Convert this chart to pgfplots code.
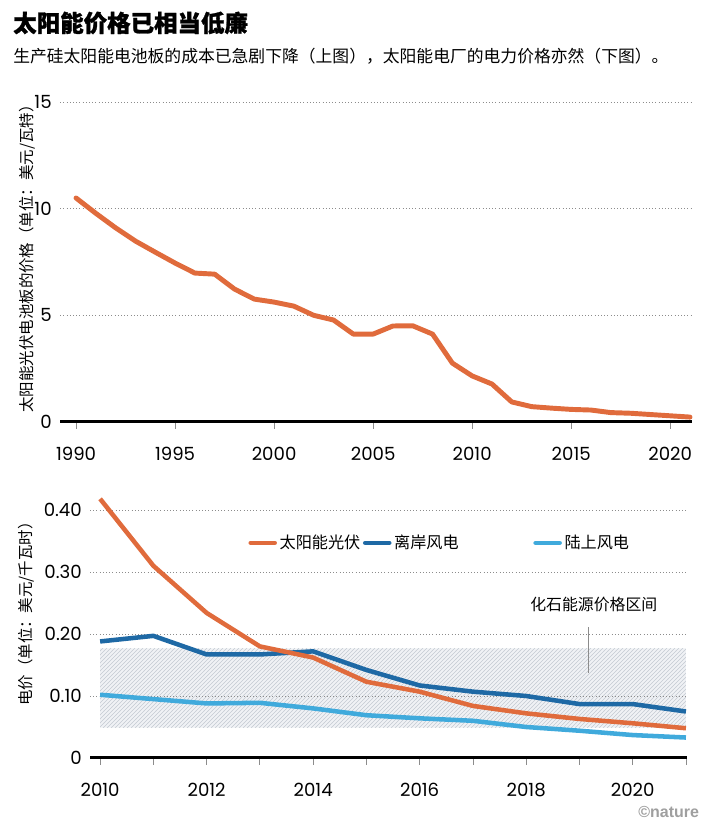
\documentclass[border=0pt]{standalone}
\usepackage{fontspec}
\setmainfont{Poppins}
\newfontfamily\cjk{Noto Sans CJK SC}
\newfontfamily\cjkb[BoldFeatures={FakeBold=1.2}]{Noto Sans CJK SC}
\newfontfamily\natfont{Liberation Sans}
\usepackage{pgfplots}
\pgfplotsset{compat=1.18}
\usetikzlibrary{patterns}
\definecolor{solar}{RGB}{224,107,60}
\definecolor{offshore}{RGB}{30,105,165}
\definecolor{onshore}{RGB}{64,170,220}
\definecolor{bandbg}{RGB}{240,242,245}
\definecolor{hatch}{RGB}{196,202,210}
\definecolor{gridc}{RGB}{140,140,140}

\pgfplotstableread{
year price
1990 10.5
1991 9.78
1992 9.1
1993 8.48
1994 7.96
1995 7.45
1996 6.98
1997 6.93
1998 6.23
1999 5.76
2000 5.62
2001 5.43
2002 5.0
2003 4.78
2004 4.12
2005 4.12
2006 4.5
2007 4.51
2008 4.12
2009 2.76
2010 2.16
2011 1.78
2012 0.94
2013 0.72
2014 0.65
2015 0.59
2016 0.56
2017 0.44
2018 0.41
2019 0.35
2020 0.29
2021 0.23
}\panel

\pgfplotstableread{
year solar offshore onshore
2010 0.418 0.188 0.102
2011 0.310 0.197 0.095
2012 0.234 0.167 0.088
2013 0.180 0.167 0.089
2014 0.162 0.172 0.080
2015 0.123 0.142 0.069
2016 0.107 0.117 0.064
2017 0.084 0.107 0.060
2018 0.072 0.100 0.050
2019 0.063 0.087 0.044
2020 0.056 0.087 0.037
2021 0.048 0.075 0.033
}\lcoe

\pgfplotsset{
  common/.style={
    scale only axis, anchor=south west, clip=false,
    axis lines=left, axis line style={-},
    x axis line style={line width=2.25pt, black},
    y axis line style={draw=none},
    ymajorgrids,
    grid style={dash pattern=on 0.7pt off 1.7pt, line width=0.65pt, gridc},
    tick align=outside, major tick length=5pt, minor tick length=5pt,
    xtick style={gridc, line width=0.6pt},
    ytick style={draw=none},
    tick label style={font=\fontsize{13.6}{15}\selectfont},
    /pgf/number format/assume math mode=true,
    xticklabel style={anchor=base, inner sep=0pt, yshift=-24pt},
    yticklabel style={anchor=east, inner sep=0pt},
  },
}

\begin{document}
\begin{tikzpicture}
\useasboundingbox (0,0) rectangle (525pt,620.25pt);

\node[anchor=west, inner sep=0pt] at (9.75pt,603pt) {\cjkb\bfseries\fontsize{17.6pt}{20pt}\selectfont 太阳能价格已相当低廉};
\node[anchor=west, inner sep=0pt] at (9.75pt,578.25pt) {\cjk\fontsize{12.6pt}{14pt}\selectfont 生产硅太阳能电池板的成本已急剧下降（上图），太阳能电厂的电力价格亦然（下图）。};

\node[rotate=90, inner sep=0pt] at (20.25pt,429pt) {\cjk\fontsize{11.6pt}{13pt}\selectfont 太阳能光伏电池板的价格（单位：美元/瓦特）};
\node[rotate=90, inner sep=0pt] at (19.5pt,162.75pt) {\cjk\fontsize{11.6pt}{13pt}\selectfont 电价（单位：美元/千瓦时）};

\begin{axis}[common,
  at={(45.15pt,303.75pt)}, width=473.85pt, height=240pt,
  xmin=1989.2, xmax=2021.1, ymin=0, ymax=15,
  xtick={1990,1995,2000,2005,2010,2015,2020},
  xticklabels={1990,1995,2000,2005,2010,2015,2020},
  ytick={0,5,10,15}, yticklabels={0,5,10,15},
  yticklabel style={xshift=-1.2pt},
]
\addplot[solar, line width=3.7pt, line join=round, line cap=round] table[x=year, y=price] {\panel};
\end{axis}

\begin{axis}[common,
  at={(67.5pt,51.75pt)}, width=447.75pt, height=195.3pt,
  xmin=2009.81, xmax=2021.02, ymin=0, ymax=0.42,
  xtick={2010,2011,2012,2013,2014,2015,2016,2017,2018,2019,2020,2021},
  xticklabels={2010,,2012,,2014,,2016,,2018,,2020,},
  ytick={0,0.1,0.2,0.3,0.4}, yticklabels={0,0.10,0.20,0.30,0.40},
  yticklabel style={xshift=-1pt},
  legend columns=3,
  legend style={at={(axis cs:2012.78,0.347)}, anchor=west, draw=none, fill=none,
    inner sep=0pt, font=\cjk\fontsize{12.1pt}{14pt}\selectfont,
    /tikz/every even column/.append style={column sep=0pt}},
  legend cell align=left,
  legend image code/.code={\draw[#1, line width=3.4pt, line cap=round] (0pt,0pt) -- (18pt,0pt);},
]
\addplot[draw=none, fill=bandbg, forget plot,
  postaction={pattern=north east lines, pattern color=hatch}]
  coordinates {(2010,0.049) (2021,0.049) (2021,0.177) (2010,0.177) (2010,0.049)};
\addplot[gridc, dash pattern=on 0.7pt off 1.7pt, line width=0.65pt, forget plot]
  coordinates {(2009.81,0.1) (2021.02,0.1)};
\addlegendimage{solar}
\addlegendentry{太阳能光伏}
\addlegendimage{offshore}
\addlegendentry{离岸风电\rule{54pt}{0pt}}
\addlegendimage{onshore}
\addlegendentry{陆上风电}
\addplot[onshore, line width=3.4pt, line join=round, forget plot] table[x=year, y=onshore] {\lcoe};
\addplot[offshore, line width=3.4pt, line join=round, forget plot] table[x=year, y=offshore] {\lcoe};
\addplot[solar, line width=3.4pt, line join=round, forget plot] table[x=year, y=solar] {\lcoe};
\draw[gridc, line width=0.7pt] (axis cs:2019.17,0.137) -- (axis cs:2019.17,0.211);
\node[inner sep=0pt] at (axis cs:2019.27,0.247) {\cjk\fontsize{11.9pt}{13pt}\selectfont 化石能源价格区间};
\end{axis}

\node[anchor=east, inner sep=0pt, text=gray!75] at (524.5pt,11.25pt) {\natfont\bfseries\fontsize{12pt}{14pt}\selectfont ©nature};
\end{tikzpicture}
\end{document}
